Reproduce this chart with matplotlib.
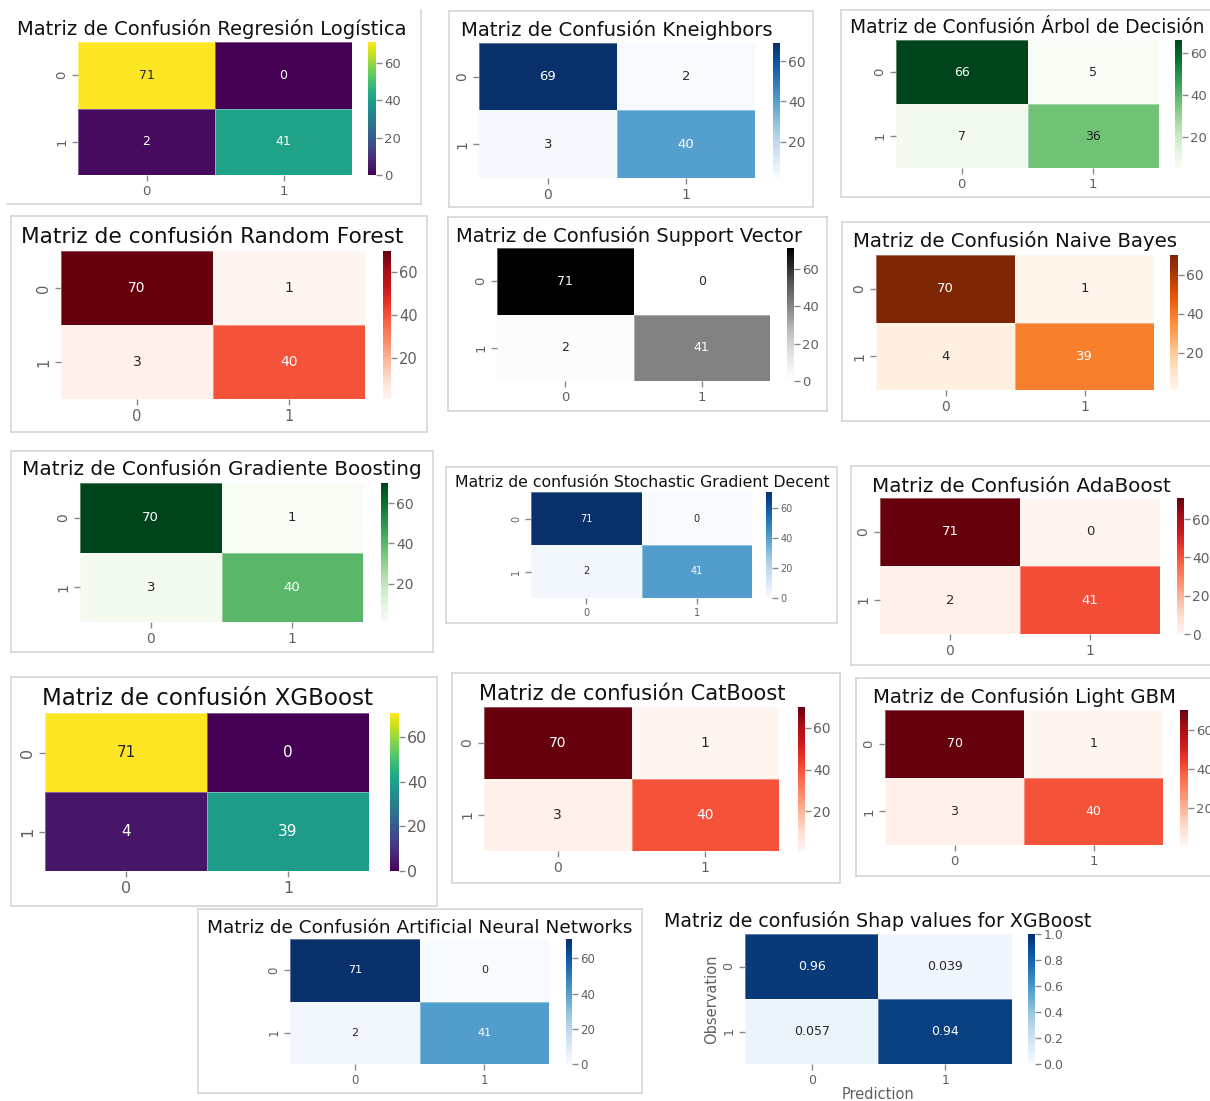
import numpy as np
import matplotlib
matplotlib.use("Agg")
import matplotlib.pyplot as plt
from matplotlib.lines import Line2D
import matplotlib.colors as mcolors

# ---------------- DATA ----------------
titles = [
    "Matriz de Confusión Regresión Logística",
    "Matriz de Confusión Kneighbors",
    "Matriz de Confusión Árbol de Decisión",
    "Matriz de confusión Random Forest",
    "Matriz de Confusión Support Vector",
    "Matriz de Confusión Naive Bayes",
    "Matriz de Confusión Gradiente Boosting",
    "Matriz de confusión Stochastic Gradient Decent",
    "Matriz de Confusión AdaBoost",
    "Matriz de confusión XGBoost",
    "Matriz de confusión CatBoost",
    "Matriz de Confusión Light GBM",
    "Matriz de Confusión Artificial Neural Networks",
    "Matriz de confusión Shap values for XGBoost",
]
cm_logreg = [[71, 0], [2, 41]]
cm_knn = [[69, 2], [3, 40]]
cm_tree = [[66, 5], [7, 36]]
cm_rf = [[70, 1], [3, 40]]
cm_svc = [[71, 0], [2, 41]]
cm_nb = [[70, 1], [4, 39]]
cm_gb = [[70, 1], [3, 40]]
cm_sgd = [[71, 0], [2, 41]]
cm_ada = [[71, 0], [2, 41]]
cm_xgb = [[71, 0], [4, 39]]
cm_cat = [[70, 1], [3, 40]]
cm_lgbm = [[70, 1], [3, 40]]
cm_ann = [[71, 0], [2, 41]]
cm_shap = [[0.96, 0.039], [0.057, 0.94]]
matrices = [cm_logreg, cm_knn, cm_tree, cm_rf, cm_svc, cm_nb, cm_gb,
            cm_sgd, cm_ada, cm_xgb, cm_cat, cm_lgbm, cm_ann, cm_shap]
class_labels = ["0", "1"]
count_ticks = [0, 20, 40, 60]
shap_ticks = [0.0, 0.2, 0.4, 0.6, 0.8, 1.0]
shap_xlabel = "Prediction"
shap_ylabel = "Observation"

# ---------------- LAYOUT / STYLE (pixel positions) ----------------
W, H = 1210, 1101
panels = [
    dict(box=(7, 10, 421, 204), sides="rb", heat=(78, 42, 352, 175), cbar=(368, 376), title=(17, 406, 35), tfs=9.5, afs=9, cmap="viridis"),
    dict(box=(449, 11, 813, 207), sides="lrtb", heat=(479, 43, 755, 178), cbar=(773, 780), title=(461, 773, 36), tfs=10, afs=9.5, cmap="Blues"),
    dict(box=(841, 10, 1215, 197), sides="ltb", heat=(896, 40, 1159, 168), cbar=(1175, 1182), title=(850, 1205, 33), tfs=9.5, afs=9, cmap="Greens"),
    dict(box=(11, 216, 427, 432), sides="lrtb", heat=(61, 251, 365, 399), cbar=(383, 391), title=(22, 403, 243), tfs=10.5, afs=10, cmap="Reds"),
    dict(box=(448, 217, 827, 411), sides="lrtb", heat=(497, 248, 770, 381), cbar=(787, 794), title=(457, 802, 242), tfs=9.5, afs=9, cmap="Greys"),
    dict(box=(842, 222, 1215, 421), sides="ltb", heat=(876, 255, 1154, 390), cbar=(1170, 1178), title=(852, 1178, 247), tfs=10, afs=9.5, cmap="Oranges"),
    dict(box=(11, 451, 433, 652), sides="lrtb", heat=(80, 483, 363, 622), cbar=(381, 388), title=(22, 422, 475), tfs=10, afs=9.5, cmap="Greens"),
    dict(box=(446, 467, 837, 623), sides="lrtb", heat=(531, 492, 752, 598), cbar=(766, 772), title=(454, 830, 487), tfs=7, afs=7, cmap="Blues"),
    dict(box=(851, 466, 1215, 665), sides="ltb", heat=(880, 498, 1160, 634), cbar=(1177, 1184), title=(872, 1170, 492), tfs=10, afs=9.5, cmap="Reds"),
    dict(box=(11, 677, 437, 906), sides="lrtb", heat=(45, 713, 369, 871), cbar=(390, 399), title=(42, 373, 705), tfs=11.5, afs=11, cmap="viridis"),
    dict(box=(452, 673, 840, 883), sides="lrtb", heat=(484, 707, 779, 851), cbar=(798, 805), title=(478, 786, 700), tfs=10, afs=10, cmap="Reds"),
    dict(box=(856, 678, 1215, 876), sides="ltb", heat=(885, 710, 1163, 845), cbar=(1180, 1188), title=(872, 1177, 703), tfs=9.5, afs=9, cmap="Reds"),
    dict(box=(198, 909, 642, 1093), sides="lrtb", heat=(290, 939, 549, 1064), cbar=(566, 572), title=(207, 633, 933), tfs=8.5, afs=8, cmap="Blues"),
    dict(box=None, sides="", heat=(745, 934, 1012, 1064), cbar=(1028, 1035), title=(664, 1092, 927), tfs=9, afs=9, cmap="Blues"),
]

TICK_COLOR = "#8a8a8a"
LABEL_COLOR = "#606060"
BOX_COLOR = "#d6d6d6"

fig = plt.figure(figsize=(W / 100, H / 100), dpi=100)
fig.patch.set_facecolor("white")


def rect(x0, y0, x1, y1):
    return [x0 / W, 1 - y1 / H, (x1 - x0) / W, (y1 - y0) / H]


def fx(x):
    return x / W


def fy(y):
    return 1 - y / H


def rel_lum(c):
    rgb = np.array(mcolors.to_rgb(c))
    rgb = np.where(rgb <= .03928, rgb / 12.92, ((rgb + .055) / 1.055) ** 2.4)
    return rgb.dot([.2126, .7152, .0722])


renderer = fig.canvas.get_renderer()

for i, (p, title, mat) in enumerate(zip(panels, titles, matrices)):
    data = np.array(mat, dtype=float)
    is_shap = (i == len(panels) - 1)
    if is_shap:
        vmin, vmax = 0.0, 1.0
        cticks = shap_ticks
        fmt = lambda v: "{:.2g}".format(v)
    else:
        vmin, vmax = data.min(), data.max()
        cticks = [t for t in count_ticks if vmin <= t <= vmax]
        fmt = lambda v: "{:d}".format(int(v))

    if p["box"] is not None:
        bx0, by0, bx1, by1 = p["box"]
        segs = {"l": ((bx0, bx0), (by0, by1)), "r": ((bx1, bx1), (by0, by1)),
                "t": ((bx0, bx1), (by0, by0)), "b": ((bx0, bx1), (by1, by1))}
        for s in p["sides"]:
            xs, ys = segs[s]
            fig.add_artist(Line2D([fx(xs[0]), fx(xs[1])], [fy(ys[0]), fy(ys[1])],
                                  color=BOX_COLOR, lw=1.2, transform=fig.transFigure))

    hx0, hy0, hx1, hy1 = p["heat"]
    ax = fig.add_axes(rect(hx0, hy0, hx1, hy1))
    cmap = plt.get_cmap(p["cmap"])
    mesh = ax.pcolormesh(np.arange(3), np.arange(3), data, cmap=cmap, vmin=vmin, vmax=vmax,
                         edgecolors=(1, 1, 1, 0.35), linewidth=0.6)
    ax.set_xlim(0, 2)
    ax.set_ylim(2, 0)
    for sp in ax.spines.values():
        sp.set_visible(False)
    ax.set_xticks([0.5, 1.5])
    ax.set_xticklabels(class_labels)
    ax.set_yticks([0.5, 1.5])
    ax.set_yticklabels(class_labels, rotation=90, va="center")
    ax.tick_params(length=4, width=1, color=TICK_COLOR, labelcolor=LABEL_COLOR,
                   labelsize=p["tfs"], pad=3)
    norm = mcolors.Normalize(vmin, vmax)
    for r in range(2):
        for c in range(2):
            v = data[r, c]
            col = cmap(norm(v))
            tc = "#262626" if rel_lum(col) > .408 else "white"
            ax.text(c + 0.5, r + 0.5, fmt(v), ha="center", va="center",
                    color=tc, fontsize=p["afs"])

    cx0, cx1 = p["cbar"]
    cax = fig.add_axes(rect(cx0, hy0, cx1, hy1))
    cb = fig.colorbar(mesh, cax=cax)
    cb.outline.set_visible(False)
    cb.set_ticks(cticks)
    if is_shap:
        cb.set_ticklabels(["{:.1f}".format(t) for t in cticks])
    cax.tick_params(length=4, width=1, color=TICK_COLOR, labelcolor=LABEL_COLOR,
                    labelsize=p["tfs"], pad=2)

    if is_shap:
        ax.set_xlabel(shap_xlabel, color=LABEL_COLOR, fontsize=p["tfs"] + 1.5, labelpad=0)
        ax.set_ylabel(shap_ylabel, color=LABEL_COLOR, fontsize=p["tfs"] + 1.5, labelpad=2)

    tx0, tx1, tby = p["title"]
    t = fig.text(fx((tx0 + tx1) / 2), fy(tby), title, ha="center", va="baseline",
                 fontsize=10, color="#111111")
    wpx = t.get_window_extent(renderer).width
    t.set_fontsize(10 * (tx1 - tx0) / wpx)

fig.savefig("out.png", dpi=100, facecolor="white")
